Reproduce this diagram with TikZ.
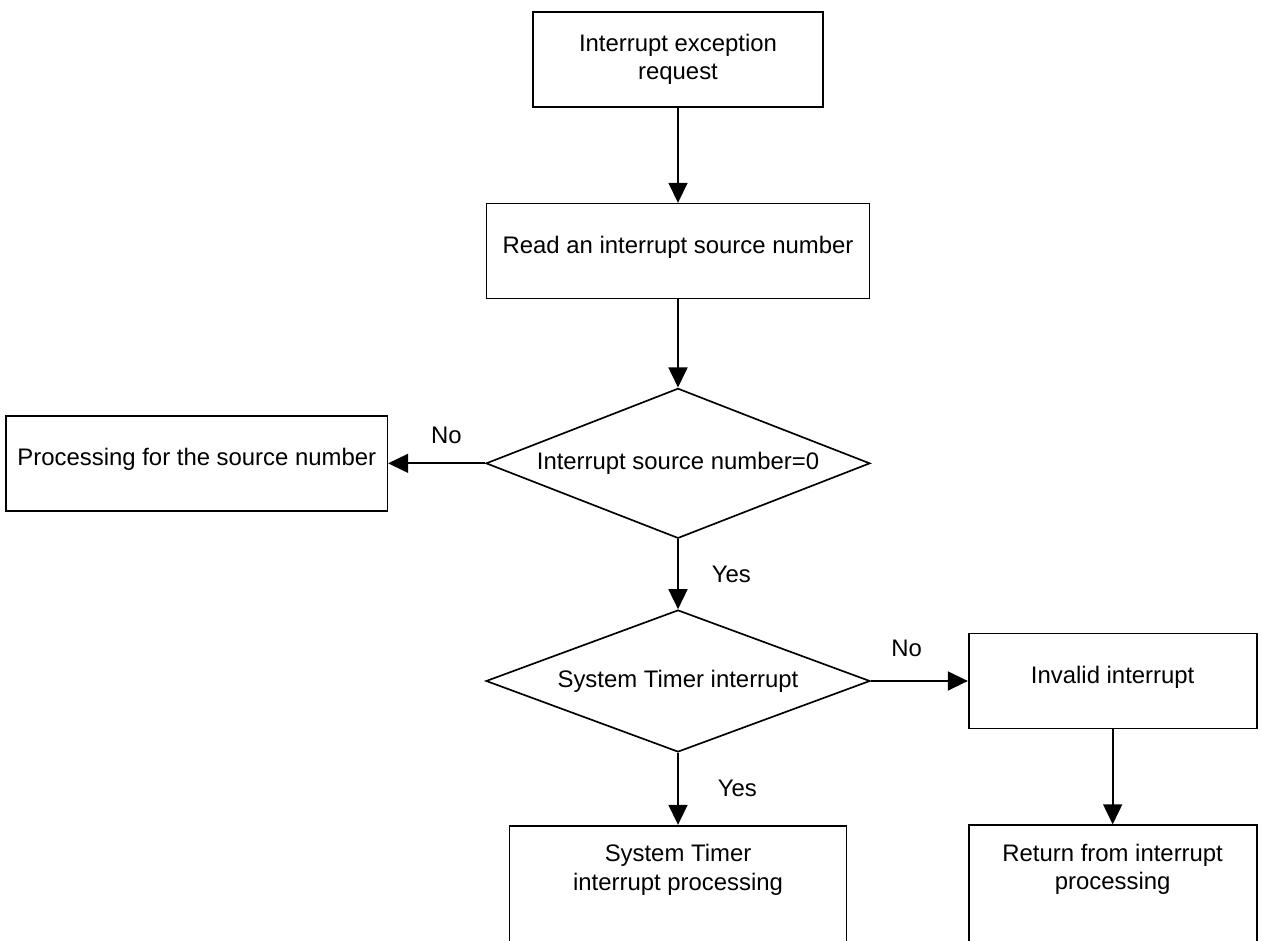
\documentclass[tikz,border=0pt]{standalone}
\usepackage{fontspec}
\setmainfont{Liberation Sans}
\usetikzlibrary{arrows.meta,positioning,shapes.geometric}
\tikzset{>={Triangle[length=0.4cm,width=0.38cm]}}

\begin{document}
\begin{tikzpicture}[
    box/.style={draw, line width=0.95pt, minimum height=1.9cm, align=center, font=\fontsize{13.6}{16.3}\selectfont},
    decision/.style={draw, diamond, aspect=2.6, line width=0.95pt, inner sep=1pt, font=\fontsize{13.6}{16.3}\selectfont},
    answer/.style={inner sep=0pt, font=\fontsize{13.6}{16.3}\selectfont},
    flow/.style={->, line width=0.95pt},
    node distance=1.9cm and 1.94cm
  ]
    \useasboundingbox (0,0) rectangle (25.24,18.8);
    \clip (0,0) rectangle (25.24,18.8);
    \node[box, minimum width=5.8cm] (req) at (13.56,17.61) {Interrupt exception\\request};
    \node[box, minimum width=7.66cm, text depth=0.25cm, below=1.9cm of req] (read) {Read an interrupt source number};
    \node[decision, minimum width=7.68cm, minimum height=3cm, below=1.76cm of read] (src) {Interrupt source number=0};
    \node[box, minimum width=7.62cm, text depth=0.25cm, left=of src] (other) {Processing for the source number};
    \node[decision, minimum width=7.68cm, minimum height=2.84cm, below=1.4cm of src] (timer) {System Timer interrupt};
    \node[box, minimum width=5.76cm, text depth=0.25cm, right=of timer] (inval) {Invalid interrupt};
    \node[box, minimum width=5.76cm, minimum height=2.6cm, text depth=0.94cm, below=of inval] (ret) {Return from interrupt\\processing};
    \node[box, minimum width=6.74cm, minimum height=2.6cm, text depth=0.94cm, below=1.44cm of timer] (tproc) {System Timer\\interrupt processing};
    \draw[flow] (req) -- (read);
    \draw[flow] (read) -- (src);
    \draw[flow] (src) -- node[answer, pos=0.4, above=0.37cm]{No} (other);
    \draw[flow] (src) -- node[answer, right=0.66cm]{Yes} (timer);
    \draw[flow] (timer) -- node[answer, pos=0.37, above=0.47cm]{No} (inval);
    \draw[flow] (timer) -- node[answer, right=0.78cm]{Yes} (tproc);
    \draw[flow] (inval) -- (ret);
  \end{tikzpicture}
\end{document}
